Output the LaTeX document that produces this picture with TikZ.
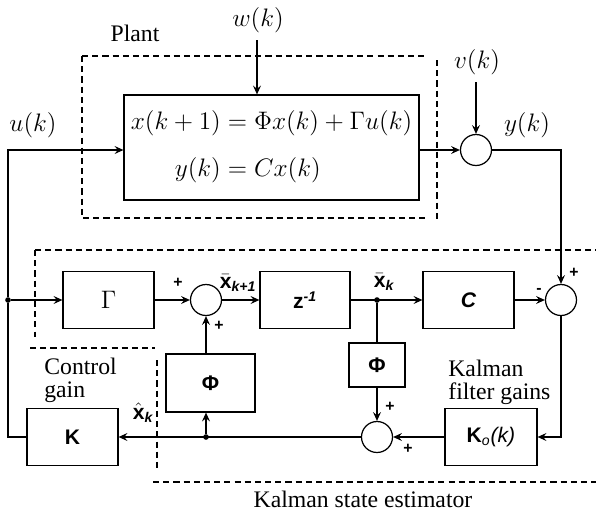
\documentclass[tikz,border=0pt]{standalone}
\usepackage{amsmath,amssymb}
\usepackage{fontspec}
\setmainfont{Liberation Serif}
\setsansfont{Liberation Sans}
\usepackage{tikz}
\usetikzlibrary{positioning,arrows.meta,calc}
\newcommand{\vecx}[2]{$#1{\text{\bfseries x}}_{\text{\itshape #2}}$}

\begin{document}
\begin{tikzpicture}[x=0.02cm, y=-0.02cm,
    blk/.style={draw, line width=0.7pt, inner sep=0pt, minimum width=1.82cm, minimum height=1.14cm, font=\sffamily\bfseries\fontsize{12}{14}\selectfont},
    sumnode/.style={draw, circle, line width=0.7pt, minimum size=0.62cm, inner sep=0pt},
    arrow/.style={-{Stealth[length=5pt, width=4.5pt, inset=1.8pt]}, line width=0.7pt},
    wire/.style={line width=0.7pt},
    dashframe/.style={dash pattern=on 3.5pt off 2.3pt, line width=0.6pt},
    lbl/.style={font=\fontsize{13.5}{13}\selectfont, inner sep=0pt},
    sig/.style={font=\sffamily\fontsize{12}{14}\selectfont, inner sep=0pt},
    sgn/.style={font=\sffamily\bfseries\fontsize{9}{9}\selectfont, inner sep=0pt},
    dot/.style={circle, fill, inner sep=0pt, minimum size=3.2pt},
  ]
  \useasboundingbox (0,0) rectangle (596,515);

  % Plant
  \node[blk, minimum width=5.9cm, minimum height=2.1cm, font=\fontsize{13.5}{15}\selectfont] (plant) at (271.5,147.5)
    {$\begin{aligned} x(k+1) &= \Phi x(k)+\Gamma u(k)\\[7pt] y(k) &= Cx(k)\end{aligned}$};
  \node[sumnode] (s1) at (476,150) {};
  \coordinate (wtop) at (257,40);
  \coordinate (vtop) at (476,82);
  \coordinate (yc) at (561,150);

  % Estimator blocks
  \node[blk, font=\fontsize{15}{17}\selectfont] (gam) at (108.5,300) {$\Gamma$};
  \node[sumnode] (s2) at (206,300) {};
  \node[blk, minimum width=1.8cm] (zinv) at (305,300) {z\textsuperscript{\itshape -1}};
  \node[blk] (cmat) at (468.5,300) {\itshape C};
  \node[sumnode] (s3) at (561,300) {};
  \node[blk, minimum width=1.12cm, minimum height=0.88cm] (phir) at (377,365) {Φ};
  \node[sumnode] (s4) at (377,437) {};
  \node[blk, minimum width=1.84cm] (kob) at (491,437) {K$_{\text{\itshape\mdseries o}}${\mdseries\itshape (k)}};
  \node[blk, minimum width=1.78cm, minimum height=1.16cm] (phil) at (210.5,383) {Φ};
  \node[blk] (kb) at (72.5,437) {K};

  % Junctions
  \node[dot] (uj) at (8,300) {};
  \node[dot] (xk) at (377,300) {};
  \node[dot] (jl) at (206,437) {};

  % Connections
  \draw[arrow] (wtop) -- (plant.north -| wtop);
  \draw[arrow] (vtop) -- (s1.north);
  \draw[arrow] (plant.east |- s1) -- (s1.west);
  \draw[arrow] (s1.east) -- (yc) -- (s3.north);
  \draw[arrow] (kb.west) -| (uj) |- (plant.west |- s1);
  \draw[arrow] (uj) -- (gam.west);
  \draw[arrow] (gam.east) -- (s2.west);
  \draw[arrow] (s2.east) -- (zinv.west);
  \draw[arrow] (zinv.east) -- (cmat.west);
  \draw[arrow] (cmat.east) -- (s3.west);
  \draw[wire] (xk) -- (phir.north);
  \draw[arrow] (phir.south) -- (s4.north);
  \draw[arrow] (s3.south) |- (kob.east);
  \draw[arrow] (kob.west) -- (s4.east);
  \draw[arrow] (s4.west) -- (kb.east);
  \draw[arrow] (jl) -- (jl |- phil.south);
  \draw[arrow] (s2 |- phil.north) -- (s2.south);

  % Dashed frames
  \draw[dashframe] (82,56) -- (428,56);
  \draw[dashframe] (82,56) -- (82,218) -- (428,218);
  \draw[dashframe] (437,60) -- (437,222);
  \draw[dashframe] (35,250) -- (596,250);
  \draw[dashframe] (35,250) -- (35,337);
  \draw[dashframe] (30,348) -- (155,348);
  \draw[dashframe] (157,360) -- (157,472);
  \draw[dashframe] (153,482) -- (596,482);

  % Signals
  \node[lbl] (wlab) at (258,20) {$w(k)$};
  \node[lbl] (vlab) at (477,62) {$v(k)$};
  \node[lbl] (ylab) at (527,125) {$y(k)$};
  \node[lbl] (ulab) at (33,125) {$u(k)$};
  \node[sig] (xk1lab) at (238,283) {\bfseries\vecx{\bar}{k+1}};
  \node[sig] (xklab) at (384,282) {\bfseries\vecx{\bar}{k}};
  \node[sig] (xhlab) at (143,413) {\bfseries\vecx{\hat}{k}};

  % Signs
  \node[sgn] (p1) at (178,283) {+};
  \node[sgn] (p2) at (219,326) {+};
  \node[sgn] (p3) at (574,273) {+};
  \node[sgn] (m3) at (539,291) {-};
  \node[sgn] (p4) at (390,407) {+};
  \node[sgn] (p5) at (408,449) {+};

  % Labels
  \node[lbl] (plantlab) at (135,33) {Plant};
  \node[lbl, anchor=west, align=left] (cglab) at (44,380) {Control\\gain};
  \node[lbl, anchor=west, align=left] (kflab) at (448,382) {Kalman\\filter gains};
  \node[lbl] (kselab) at (363,499) {Kalman state estimator};
\end{tikzpicture}
\end{document}
